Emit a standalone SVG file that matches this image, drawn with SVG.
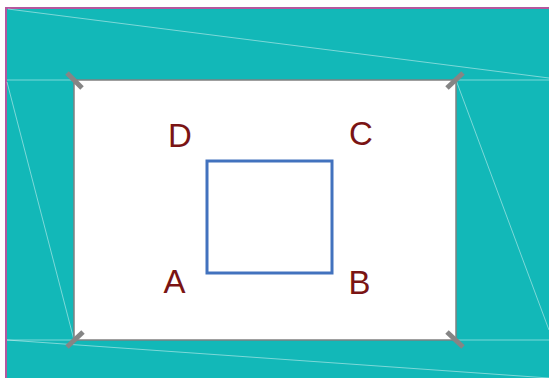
<svg xmlns="http://www.w3.org/2000/svg" width="549" height="378" viewBox="0 0 549 378">
<style>
.lbl{font-family:"Liberation Sans",Arial,sans-serif;font-size:33px;fill:#7A1414;text-anchor:middle}
.fine{stroke:#ffffff;stroke-opacity:0.45;stroke-width:1;fill:none}
.tick{stroke:#858585;stroke-width:5;stroke-linecap:butt}
</style>
<rect x="0" y="0" width="549" height="378" fill="#ffffff"/>
<rect id="background" x="6" y="8" width="550" height="380" fill="#12B8B8" stroke="#B5579E" stroke-width="2"/>
<g id="connectors">
<line class="fine" x1="8" y1="9" x2="549" y2="78"/>
<line class="fine" x1="7" y1="80" x2="74" y2="80"/>
<line class="fine" x1="456" y1="80" x2="549" y2="80"/>
<line class="fine" x1="7" y1="82" x2="74" y2="340"/>
<line class="fine" x1="456" y1="80" x2="549" y2="330"/>
<line class="fine" x1="7" y1="340" x2="74" y2="340"/>
<line class="fine" x1="456" y1="340" x2="549" y2="340"/>
<line class="fine" x1="7" y1="340" x2="549" y2="378"/>
</g>
<g id="frame">
<rect x="74" y="80" width="382" height="260" fill="#ffffff" stroke="#808080" stroke-width="1.5"/>
<line class="tick" x1="67" y1="73" x2="82" y2="88"/>
<line class="tick" x1="447" y1="88" x2="463" y2="73"/>
<line class="tick" x1="67" y1="347" x2="83" y2="332"/>
<line class="tick" x1="447" y1="332" x2="463" y2="347"/>
</g>
<g id="square">
<rect x="207" y="161" width="125" height="112" fill="none" stroke="#4272BE" stroke-width="3"/>
</g>
<g id="label-D"><text class="lbl" x="180" y="147">D</text></g>
<g id="label-C"><text class="lbl" x="361" y="145">C</text></g>
<g id="label-A"><text class="lbl" x="174.5" y="293">A</text></g>
<g id="label-B"><text class="lbl" x="359.5" y="294">B</text></g>
</svg>
